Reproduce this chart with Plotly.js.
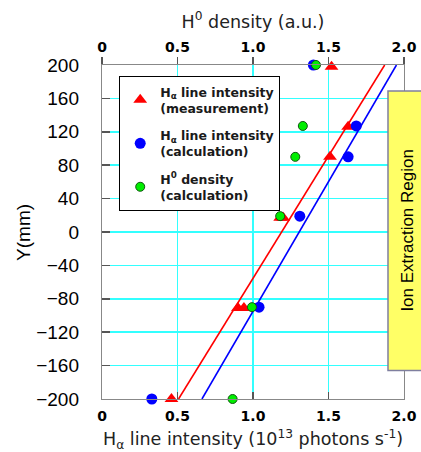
<!DOCTYPE html>
<html><head><meta charset="utf-8">
<script src="https://cdn.plot.ly/plotly-3.0.1.min.js"></script>
<style>html,body{margin:0;padding:0;background:#fff}#chart{width:421px;height:452px}</style>
</head><body><div id="chart"></div>
<script>
// Hα line intensity (measurement): x in 10^13 photons/s, Y in mm
const measX = [1.52, 1.63, 1.51, 1.18, 1.20, 0.90, 0.94, 0.46];
const measY = [198, 126, 90, 17, 17, -91, -91, -200];
// Hα line intensity (calculation)
const calcX = [1.40, 1.684, 1.63, 1.31, 1.04, 0.33];
const calcY = [200, 127, 90, 19, -90, -200];
// H0 density (calculation), top axis (a.u.)
const densX = [1.417, 1.33, 1.28, 1.18, 0.993, 0.865];
const densY = [200, 127, 90, 19, -90, -200];
// fitted lines
const measFitX = [0.507, 1.872];
const measFitY = [-200, 200];
const calcFitX = [0.662, 1.95];
const calcFitY = [-200, 200];
// ticks
const xTickVals = [0, 0.5, 1.0, 1.5, 2.0];
const xTickText = ['0', '0.5', '1.0', '1.5', '2.0'];
const yTickVals = [-200, -160, -120, -80, -40, 0, 40, 80, 120, 160, 200];
// labels
const legendNames = [
  'H<sub>α</sub> line intensity<br>(measurement)',
  'H<sub>α</sub> line intensity<br>(calculation)',
  'H<sup>0</sup> density<br>(calculation)'
];
const regionLabel = 'Ion Extraction Region';
const xTitle = 'H<sub>α</sub> line intensity (10<sup>13</sup> photons s<sup>-1</sup>)';
const x2Title = 'H<sup>0</sup> density (a.u.)';
const yTitle = 'Y(mm)';

const CYAN = '#33ffff';
const traces = [
  {x: measFitX, y: measFitY, mode: 'lines', line: {color: '#ff0000', width: 1.6}, showlegend: false, hoverinfo: 'skip'},
  {x: calcFitX, y: calcFitY, mode: 'lines', line: {color: '#0000ff', width: 1.6}, showlegend: false, hoverinfo: 'skip'},
  {x: measX, y: measY, mode: 'markers', name: legendNames[0], cliponaxis: false,
   marker: {symbol: 'triangle-up', size: 12, color: '#ff0000'}, legendgroup: 'a'},
  {x: calcX, y: calcY, mode: 'markers', name: legendNames[1], cliponaxis: false,
   marker: {symbol: 'circle', size: 11, color: '#0000ff'}, legendgroup: 'b'},
  {x: densX, y: densY, xaxis: 'x2', mode: 'markers', name: legendNames[2], cliponaxis: false,
   marker: {symbol: 'circle', size: 9, color: '#00ee00', line: {color: '#115511', width: 1}}, legendgroup: 'c'}
];

const layout = {
  width: 421, height: 452,
  margin: {l: 102, r: 17, t: 65, b: 53},
  paper_bgcolor: '#ffffff', plot_bgcolor: '#ffffff',
  font: {family: 'Liberation Sans, Arial, sans-serif', color: '#000'},
  xaxis: {
    range: [0, 2], tickvals: xTickVals, ticktext: xTickText,
    showgrid: true, gridcolor: CYAN, gridwidth: 1.5, zeroline: false,
    ticks: 'inside', ticklen: 7, tickcolor: '#555', tickwidth: 1.5,
    showline: true, linecolor: '#888', linewidth: 1.2,
    tickfont: {family: 'DejaVu Sans', size: 14, weight: 'bold', color: '#000'},
    ticklabelstandoff: 4,
    title: {text: xTitle, font: {family: 'DejaVu Sans', size: 17.5, color: '#222'}, standoff: 15},
    automargin: false
  },
  xaxis2: {
    overlaying: 'x', side: 'top', range: [0, 2], tickvals: xTickVals, ticktext: xTickText,
    showgrid: false, zeroline: false,
    ticks: 'outside', ticklen: 7, tickcolor: '#555', tickwidth: 1.5,
    showline: true, linecolor: '#888', linewidth: 1.2,
    tickfont: {family: 'DejaVu Sans', size: 14, weight: 'bold', color: '#000'},
    ticklabelstandoff: -1,
    title: {text: x2Title, font: {family: 'DejaVu Sans', size: 17.5, color: '#222'}, standoff: 6},
    automargin: false
  },
  yaxis: {
    range: [-200, 200], tickvals: yTickVals,
    showgrid: true, gridcolor: CYAN, gridwidth: 1.5, zeroline: false,
    ticks: 'inside', ticklen: 8, tickcolor: '#555', tickwidth: 1.5,
    showline: true, linecolor: '#888', linewidth: 1.2, mirror: true,
    tickfont: {family: 'Liberation Sans', size: 19, color: '#000'},
    ticklabelstandoff: 18,
    automargin: false
  },
  legend: {
    x: 0.057, y: 0.967, xanchor: 'left', yanchor: 'top',
    bgcolor: '#ffffff', bordercolor: '#000', borderwidth: 1,
    font: {family: 'DejaVu Sans', size: 12.5, weight: 'bold', color: '#1a1a1a'},
    tracegroupgap: 8, traceorder: 'grouped'
  },
  shapes: [{
    type: 'rect', xref: 'paper', yref: 'paper', x0: 0.947, x1: 1.08, y0: 0.085, y1: 0.922,
    fillcolor: '#ffff66', line: {color: '#7f7f9f', width: 1.5}, layer: 'above'
  }],
  annotations: [{
    xref: 'paper', yref: 'paper', x: 1.012, y: 0.506, xanchor: 'center', yanchor: 'middle',
    text: regionLabel, textangle: -90,
    showarrow: false, font: {family: 'Liberation Sans', size: 17, color: '#000'}
  }, {
    xref: 'paper', yref: 'paper', x: -0.262, y: 0.5, xanchor: 'center', yanchor: 'middle',
    text: yTitle, textangle: -90,
    showarrow: false, font: {family: 'Liberation Sans', size: 19, color: '#000'}
  }]
};

Plotly.newPlot('chart', traces, layout, {displayModeBar: false, staticPlot: true});
</script></body></html>
